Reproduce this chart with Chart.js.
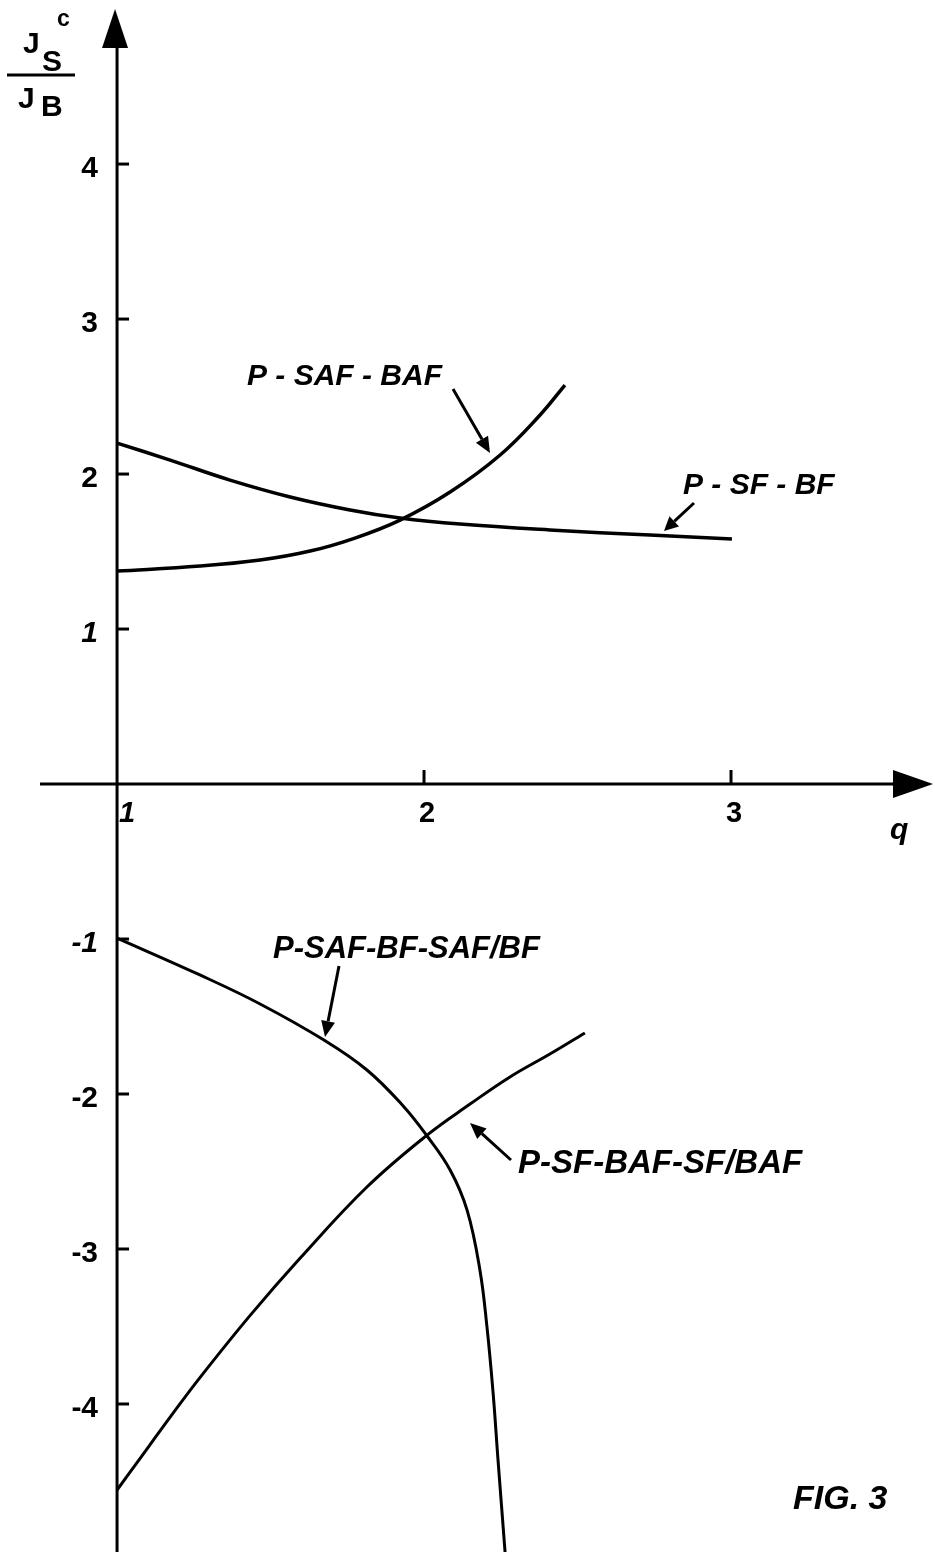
<!DOCTYPE html>
<html><head><meta charset="utf-8">
<script src="https://cdn.jsdelivr.net/npm/chart.js@4.4.1/dist/chart.umd.min.js"></script>
<style>html,body{margin:0;padding:0;background:#fff;}canvas{display:block;}</style>
</head><body>
<canvas id="c" width="935" height="1552"></canvas>
<script>
// ---- data ----
const xTicks = [1, 2, 3];
const yTicks = [-4, -3, -2, -1, 1, 2, 3, 4];

const qSfBf   = [1.0, 1.173, 1.368, 1.564, 1.759, 1.922, 2.117, 2.410, 2.736, 3.003];
const jSfBf   = [2.20, 2.090, 1.961, 1.852, 1.768, 1.716, 1.677, 1.639, 1.606, 1.581];

const qSafBaf = [1.0, 1.270, 1.466, 1.629, 1.775, 1.922, 2.085, 2.248, 2.378, 2.459];
const jSafBaf = [1.374, 1.406, 1.445, 1.503, 1.587, 1.703, 1.884, 2.123, 2.381, 2.574];

const qSafBf  = [1.0, 1.270, 1.466, 1.674, 1.814, 1.932, 2.010, 2.085, 2.140, 2.182, 2.205, 2.225, 2.241, 2.264];
const jSafBf  = [-0.994, -1.232, -1.419, -1.652, -1.845, -2.077, -2.271, -2.490, -2.748, -3.135, -3.503, -3.929, -4.361, -4.955];

const qSfBaf  = [1.0, 1.068, 1.173, 1.270, 1.433, 1.596, 1.814, 2.010, 2.150, 2.280, 2.410, 2.524];
const jSfBaf  = [-4.555, -4.370, -4.085, -3.830, -3.430, -3.060, -2.600, -2.265, -2.065, -1.890, -1.742, -1.606];

const seriesNames = ['P - SF - BF', 'P - SAF - BAF', 'P-SAF-BF-SAF/BF', 'P-SF-BAF-SF/BAF'];

function pts(xs, ys) { return xs.map((x, i) => ({x: x, y: ys[i]})); }

const FONT = '"Liberation Sans", Arial, sans-serif';

function drawArrow(ctx, x1, y1, x2, y2, head, half, lw) {
  const a = Math.atan2(y2 - y1, x2 - x1);
  const bx = x2 - head * Math.cos(a), by = y2 - head * Math.sin(a);
  ctx.save();
  ctx.lineWidth = lw; ctx.strokeStyle = '#000'; ctx.fillStyle = '#000';
  ctx.beginPath(); ctx.moveTo(x1, y1); ctx.lineTo(bx, by); ctx.stroke();
  ctx.beginPath();
  ctx.moveTo(x2, y2);
  ctx.lineTo(bx + half * Math.sin(a), by - half * Math.cos(a));
  ctx.lineTo(bx - half * Math.sin(a), by + half * Math.cos(a));
  ctx.closePath(); ctx.fill();
  ctx.restore();
}

const figurePlugin = {
  id: 'figure',
  afterDatasetsDraw(chart) {
    const ctx = chart.ctx, ca = chart.chartArea;
    const sx = chart.scales.x, sy = chart.scales.y;
    const ax = sx.getPixelForValue(1);   // vertical axis sits at q = 1
    const ay = sy.getPixelForValue(0);   // horizontal axis at 0
    ctx.save();
    ctx.strokeStyle = '#000'; ctx.fillStyle = '#000';
    ctx.lineCap = 'butt';
    // vertical axis
    ctx.lineWidth = 3;
    ctx.beginPath(); ctx.moveTo(ax, ca.top + 30); ctx.lineTo(ax, ca.bottom); ctx.stroke();
    ctx.beginPath(); ctx.moveTo(ax - 2, ca.top - 1); ctx.lineTo(ax - 15, ca.top + 38); ctx.lineTo(ax + 11, ca.top + 38); ctx.closePath(); ctx.fill();
    // horizontal axis
    ctx.beginPath(); ctx.moveTo(ca.left, ay); ctx.lineTo(ca.right - 30, ay); ctx.stroke();
    ctx.beginPath(); ctx.moveTo(ca.right, ay); ctx.lineTo(ca.right - 40, ay - 14); ctx.lineTo(ca.right - 40, ay + 14); ctx.closePath(); ctx.fill();

    // y ticks and labels
    ctx.lineWidth = 3;
    ctx.textAlign = 'right'; ctx.textBaseline = 'middle';
    sy.ticks.forEach(t => {
      const py = sy.getPixelForValue(t.value);
      ctx.beginPath(); ctx.moveTo(ax, py); ctx.lineTo(ax + 12, py); ctx.stroke();
      const italic = Math.abs(t.value) === 1 ? 'italic ' : '';
      ctx.font = italic + 'bold 30px ' + FONT;
      ctx.fillText(String(t.value), ax - 19, py + 5);
    });
    // x ticks and labels
    ctx.textAlign = 'center'; ctx.textBaseline = 'top';
    sx.ticks.forEach(t => {
      const px = sx.getPixelForValue(t.value);
      const atAxis = Math.abs(px - ax) < 2;
      if (!atAxis) { ctx.beginPath(); ctx.moveTo(px, ay); ctx.lineTo(px, ay - 14); ctx.stroke(); }
      ctx.font = (atAxis ? 'italic ' : '') + 'bold 29px ' + FONT;
      ctx.fillText(String(t.value), px + (atAxis ? 10 : 3), ay + 15);
    });

    // axis labels
    ctx.textAlign = 'left'; ctx.textBaseline = 'alphabetic';
    ctx.font = 'bold 30px ' + FONT;
    ctx.fillText('J', 23, 53);
    ctx.fillText('S', 42, 71);
    ctx.font = 'bold 23px ' + FONT;
    ctx.fillText('c', 57, 26);
    ctx.lineWidth = 3;
    ctx.beginPath(); ctx.moveTo(7, 75); ctx.lineTo(75, 75); ctx.stroke();
    ctx.font = 'bold 30px ' + FONT;
    ctx.fillText('J', 18, 108);
    ctx.fillText('B', 41, 116);
    ctx.font = 'italic bold 30px ' + FONT;
    ctx.fillText('q', 890, 839);

    // curve labels
    ctx.textBaseline = 'middle';
    ctx.font = 'italic bold 30px ' + FONT;
    ctx.fillText(seriesNames[1], 247, 377);
    ctx.fillText(seriesNames[0], 683, 486);
    ctx.font = 'italic bold 31px ' + FONT;
    ctx.fillText(seriesNames[2], 273, 949);
    ctx.font = 'italic bold 33px ' + FONT;
    ctx.fillText(seriesNames[3], 518, 1164);
    ctx.font = 'italic bold 34px ' + FONT;
    ctx.fillText('FIG. 3', 793, 1500);
    ctx.restore();

    // pointer arrows
    drawArrow(ctx, 453, 389, 490, 453, 16, 7, 3);
    drawArrow(ctx, 694, 503, 664, 531, 14, 7, 3);
    drawArrow(ctx, 339, 966, 325, 1037, 16, 7, 3);
    drawArrow(ctx, 511, 1160, 470, 1123, 16, 7, 3);
  }
};

const lineStyle = {showLine: true, borderColor: '#000', backgroundColor: '#000', pointRadius: 0, tension: 0.4};

new Chart(document.getElementById('c'), {
  type: 'scatter',
  data: {
    datasets: [
      Object.assign({label: seriesNames[0], data: pts(qSfBf, jSfBf), borderWidth: 3.5}, lineStyle),
      Object.assign({label: seriesNames[1], data: pts(qSafBaf, jSafBaf), borderWidth: 3.5}, lineStyle),
      Object.assign({label: seriesNames[2], data: pts(qSafBf, jSafBf), borderWidth: 3}, lineStyle),
      Object.assign({label: seriesNames[3], data: pts(qSfBaf, jSfBaf), borderWidth: 3}, lineStyle)
    ]
  },
  options: {
    responsive: false,
    animation: false,
    devicePixelRatio: 1,
    layout: {padding: {left: 40, right: 2, top: 10, bottom: 0}},
    plugins: {legend: {display: false}, tooltip: {enabled: false}},
    scales: {
      x: {type: 'linear', min: 0.749, max: 3.658, display: false,
          afterBuildTicks: s => { s.ticks = xTicks.map(v => ({value: v})); }},
      y: {type: 'linear', min: -4.955, max: 4.994, display: false,
          afterBuildTicks: s => { s.ticks = yTicks.map(v => ({value: v})); }}
    }
  },
  plugins: [figurePlugin]
});
</script>
</body></html>
